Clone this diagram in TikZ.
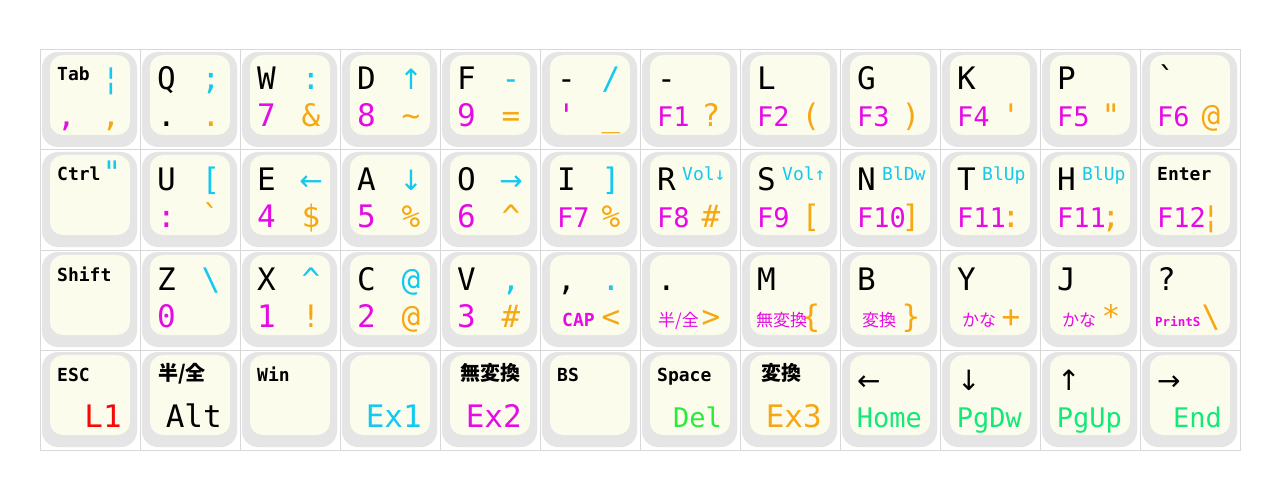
\documentclass[tikz,border=0pt]{standalone}
\usepackage{fontspec}
\setmonofont{DejaVu Sans Mono}
\newfontfamily\cjk{Noto Sans CJK JP}
\newfontfamily\arrowfont{DejaVu Sans}

\definecolor{capedge}{RGB}{229,229,229}
\definecolor{captop}{RGB}{252,252,236}
\definecolor{cellline}{RGB}{216,216,216}
\definecolor{legcyan}{RGB}{20,200,240}
\definecolor{legmag}{RGB}{230,10,230}
\definecolor{legorange}{RGB}{245,168,20}
\definecolor{legred}{RGB}{245,10,10}
\definecolor{delgreen}{RGB}{40,235,60}
\definecolor{navgreen}{RGB}{20,232,120}

\newcommand\mainfs{\ttfamily\fontsize{27}{30}\selectfont}
\newcommand\bigfs{\ttfamily\fontsize{31}{34}\selectfont}
\newcommand\namefs{\ttfamily\bfseries\fontsize{18}{20}\selectfont}
\newcommand\volfs{\ttfamily\fontsize{18}{20}\selectfont}
\newcommand\tinyfs{\ttfamily\bfseries\fontsize{12.5}{14}\selectfont}
\newcommand\kanafs{\cjk\fontsize{17}{19}\selectfont}
\newcommand\kanabfs{\cjk\bfseries\fontsize{20}{22}\selectfont}
\newcommand\fn[1]{{\mainfs #1}}
\newcommand\ar[1]{{\arrowfont\fontsize{28}{30}\selectfont #1}}

\tikzset{
  cellbox/.style={draw=cellline, line width=1pt},
  keyedge/.style={fill=capedge, rounded corners=16pt},
  keytop/.style={fill=captop, rounded corners=13pt},
  lgbase/.style={inner sep=0pt, font=\bigfs},
  lgtl/.style={lgbase, anchor=base west, text=black},
  lgtr/.style={lgbase, anchor=base, text=legcyan},
  lgbl/.style={lgbase, anchor=base west, text=legmag},
  lgbr/.style={lgbase, anchor=base, text=legorange},
  lgname/.style={inner sep=0pt, anchor=base west, font=\namefs},
  lgvol/.style={inner sep=0pt, anchor=base west, font=\volfs, text=legcyan},
  lgsub/.style={inner sep=0pt, anchor=base west, text=legmag},
  lgbig/.style={inner sep=0pt, anchor=base east, font=\bigfs},
  lgnav/.style={inner sep=0pt, anchor=base east, font=\mainfs},
}

% one key: column, row, top left, top right, bottom left, bottom right
\newcommand\keycap[6]{%
  \begin{scope}[shift={(40+100*#1,50+100*#2)}]
    \coordinate (k#1-#2) at (0,0);
    \draw[cellbox] (0,0) rectangle (100,100);
    \fill[keyedge] (2,2) rectangle (97,97);
    \fill[keytop] (10,5) rectangle (90,85);
    \node[lgtl] (k#1-#2-tl) at (17,40) {#3};
    \node[lgtr] (k#1-#2-tr) at (71,40) {#4};
    \node[lgbl] (k#1-#2-bl) at (17,77) {#5};
    \node[lgbr] (k#1-#2-br) at (71,77) {#6};
  \end{scope}}

\begin{document}
\begin{tikzpicture}[x=1pt,y=-1pt]
  \fill[white] (0,0) rectangle (1280,500);
  \useasboundingbox (0,0) rectangle (1280,500);

  % row 1
  \keycap{0}{0}{}{¦}{,}{,}
  \keycap{1}{0}{Q}{;}{\color{black}.}{.}
  \keycap{2}{0}{W}{:}{7}{\&}
  \keycap{3}{0}{D}{\ar{↑}}{8}{\textasciitilde}
  \keycap{4}{0}{F}{-}{9}{=}
  \keycap{5}{0}{-}{/}{'}{\_}
  \keycap{6}{0}{-}{}{\fn{F1}}{?}
  \keycap{7}{0}{L}{}{\fn{F2}}{(}
  \keycap{8}{0}{G}{}{\fn{F3}}{)}
  \keycap{9}{0}{K}{}{\fn{F4}}{'}
  \keycap{10}{0}{P}{}{\fn{F5}}{"}
  \keycap{11}{0}{`}{}{\fn{F6}}{@}
  \node[lgname] (tab) at (57,81) {Tab};

  % row 2
  \keycap{0}{1}{}{}{}{}
  \keycap{1}{1}{U}{[}{:}{`}
  \keycap{2}{1}{E}{\ar{←}}{4}{\$}
  \keycap{3}{1}{A}{\ar{↓}}{5}{\%}
  \keycap{4}{1}{O}{\ar{→}}{6}{\textasciicircum}
  \keycap{5}{1}{I}{]}{\fn{F7}}{\%}
  \keycap{6}{1}{R}{}{\fn{F8}}{\#}
  \keycap{7}{1}{S}{}{\fn{F9}}{[}
  \keycap{8}{1}{N}{}{\fn{F10}}{]}
  \keycap{9}{1}{T}{}{\fn{F11}}{:}
  \keycap{10}{1}{H}{}{\fn{F11}}{;}
  \keycap{11}{1}{}{}{\fn{F12}}{¦}
  \node[lgname] (ctrl) at (57,181) {Ctrl};
  \node[lgtr] (ctrl-quote) at (112,183) {"};
  \node[lgvol] (voldn) at (682,180) {Vol↓};
  \node[lgvol] (volup) at (782,180) {Vol↑};
  \node[lgvol] (bldw) at (882,180) {BlDw};
  \node[lgvol] (blup) at (982,180) {BlUp};
  \node[lgvol] (blup2) at (1082,180) {BlUp};
  \node[lgname] (enter) at (1157,181) {Enter};

  % row 3
  \keycap{0}{2}{}{}{}{}
  \keycap{1}{2}{Z}{\textbackslash}{0}{}
  \keycap{2}{2}{X}{\textasciicircum}{1}{!}
  \keycap{3}{2}{C}{@}{2}{@}
  \keycap{4}{2}{V}{,}{3}{\#}
  \keycap{5}{2}{,}{.}{}{<}
  \keycap{6}{2}{.}{}{}{>}
  \keycap{7}{2}{M}{}{}{\{}
  \keycap{8}{2}{B}{}{}{\}}
  \keycap{9}{2}{Y}{}{}{+}
  \keycap{10}{2}{J}{}{}{*}
  \keycap{11}{2}{?}{}{}{\textbackslash}
  \node[lgname] (shift) at (57,281) {Shift};
  \node[lgsub, font=\namefs] (caps) at (562,326) {CAP};
  \node[lgsub, font=\kanafs] (hanzen) at (658,326) {半/全};
  \node[lgsub, font=\kanafs] (muhen) at (756,326) {無変換};
  \node[lgsub, font=\kanafs] (henkan) at (862,326) {変換};
  \node[lgsub, font=\kanafs] (kana) at (962,326) {かな};
  \node[lgsub, font=\kanafs] (kana2) at (1062,326) {かな};
  \node[lgsub, font=\tinyfs] (prints) at (1155,326) {PrintS};

  % row 4
  \keycap{0}{3}{}{}{}{}
  \keycap{1}{3}{}{}{}{}
  \keycap{2}{3}{}{}{}{}
  \keycap{3}{3}{}{}{}{}
  \keycap{4}{3}{}{}{}{}
  \keycap{5}{3}{}{}{}{}
  \keycap{6}{3}{}{}{}{}
  \keycap{7}{3}{}{}{}{}
  \keycap{8}{3}{\ar{←}}{}{}{}
  \keycap{9}{3}{\ar{↓}}{}{}{}
  \keycap{10}{3}{\ar{↑}}{}{}{}
  \keycap{11}{3}{\ar{→}}{}{}{}
  \node[lgname] (esc) at (57,381) {ESC};
  \node[lgname, font=\kanabfs] (alt-jp) at (158,380) {半/全};
  \node[lgname] (win) at (257,381) {Win};
  \node[lgname, font=\kanabfs] (ex2-jp) at (460,380) {無変換};
  \node[lgname] (bs) at (557,381) {BS};
  \node[lgname] (space) at (657,381) {Space};
  \node[lgname, font=\kanabfs] (ex3-jp) at (761,380) {変換};
  \node[lgbig, text=legred] (layer1) at (122,427) {L1};
  \node[lgbig, text=black] (alt) at (222,427) {Alt};
  \node[lgbig, text=legcyan] (ex1) at (422,427) {Ex1};
  \node[lgbig, text=legmag] (ex2) at (522,427) {Ex2};
  \node[lgnav, text=delgreen] (del) at (722,427) {Del};
  \node[lgbig, text=legorange] (ex3) at (822,427) {Ex3};
  \node[lgnav, text=navgreen] (home) at (922,427) {Home};
  \node[lgnav, text=navgreen] (pgdw) at (1022,427) {PgDw};
  \node[lgnav, text=navgreen] (pgup) at (1122,427) {PgUp};
  \node[lgnav, text=navgreen] (end) at (1222,427) {End};
\end{tikzpicture}
\end{document}
